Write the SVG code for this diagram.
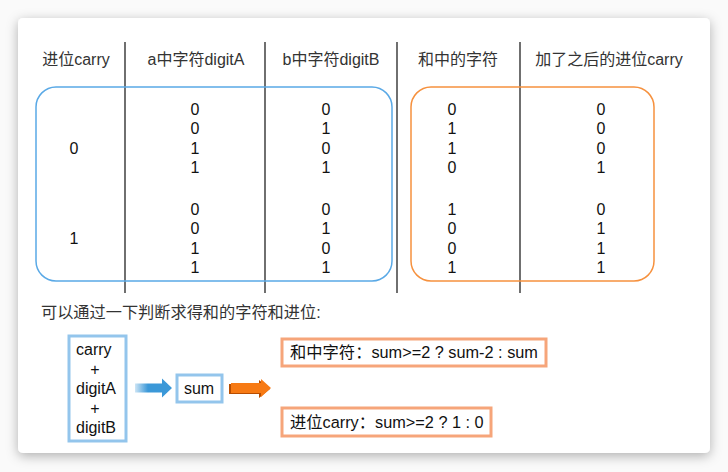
<svg xmlns="http://www.w3.org/2000/svg" width="728" height="472" viewBox="0 0 728 472">
<defs>
<style>
text{font-family:"Liberation Sans","Noto Sans CJK SC",sans-serif;font-size:16px;fill:#111}
.h{fill:#333}
.c{text-anchor:middle}
.vl{stroke:#222;stroke-width:1.3}
.grp{fill:none;stroke-width:1.5}
.ob{fill:#fff;stroke:#f6a57a;stroke-width:3}
.bb{fill:#fff;stroke:#93c5ec;stroke-width:3}
.rule{font-size:16.3px}
</style>
<filter id="sh" x="-10%" y="-10%" width="120%" height="120%">
<feDropShadow dx="0" dy="3" stdDeviation="6" flood-color="#000" flood-opacity="0.3"/>
</filter>
<linearGradient id="bg" x1="0" x2="1" y1="0" y2="0">
<stop offset="0" stop-color="#3b98d8" stop-opacity="0.25"/>
<stop offset="0.35" stop-color="#3b98d8"/>
<stop offset="1" stop-color="#3b98d8"/>
</linearGradient>
</defs>
<rect width="728" height="472" fill="#fafafa"/>
<rect x="18" y="18" width="692" height="435" rx="5" fill="#fff" filter="url(#sh)"/>

<g id="table-lines">
<line class="vl" x1="125" y1="42" x2="125" y2="293"/>
<line class="vl" x1="265" y1="42" x2="265" y2="293"/>
<line class="vl" x1="397" y1="42" x2="397" y2="293"/>
<line class="vl" x1="520" y1="42" x2="520" y2="293"/>
</g>

<g id="headers">
<text class="h c" x="76" y="65">进位carry</text>
<text class="h c" x="196" y="65">a中字符digitA</text>
<text class="h c" x="331" y="65">b中字符digitB</text>
<text class="h c" x="458" y="65">和中的字符</text>
<text class="h c" x="609" y="65">加了之后的进位carry</text>
</g>

<g id="input-group">
<rect class="grp" x="36" y="87" width="356" height="194" rx="20" stroke="#5aa9e6"/>
<text class="c" x="74" y="154">0</text>
<text class="c" x="74" y="244">1</text>
<text class="c" x="195" y="115">0</text>
<text class="c" x="195" y="134">0</text>
<text class="c" x="195" y="154">1</text>
<text class="c" x="195" y="173">1</text>
<text class="c" x="195" y="215">0</text>
<text class="c" x="195" y="234">0</text>
<text class="c" x="195" y="254">1</text>
<text class="c" x="195" y="273">1</text>
<text class="c" x="326" y="115">0</text>
<text class="c" x="326" y="134">1</text>
<text class="c" x="326" y="154">0</text>
<text class="c" x="326" y="173">1</text>
<text class="c" x="326" y="215">0</text>
<text class="c" x="326" y="234">1</text>
<text class="c" x="326" y="254">0</text>
<text class="c" x="326" y="273">1</text>
</g>

<g id="output-group">
<rect class="grp" x="411" y="87" width="243" height="194" rx="20" stroke="#f6913e"/>
<text class="c" x="452" y="115">0</text>
<text class="c" x="452" y="134">1</text>
<text class="c" x="452" y="154">1</text>
<text class="c" x="452" y="173">0</text>
<text class="c" x="452" y="215">1</text>
<text class="c" x="452" y="234">0</text>
<text class="c" x="452" y="254">0</text>
<text class="c" x="452" y="273">1</text>
<text class="c" x="601" y="115">0</text>
<text class="c" x="601" y="134">0</text>
<text class="c" x="601" y="154">0</text>
<text class="c" x="601" y="173">1</text>
<text class="c" x="601" y="215">0</text>
<text class="c" x="601" y="234">1</text>
<text class="c" x="601" y="254">1</text>
<text class="c" x="601" y="273">1</text>
</g>

<g id="caption">
<text class="h" x="41" y="318" style="font-size:16.2px">可以通过一下判断求得和的字符和进位:</text>
</g>

<g id="inputs">
<rect class="bb" x="69" y="336" width="57" height="105"/>
<text x="76" y="355">carry</text>
<text class="c" x="95" y="375">+</text>
<text x="76" y="394">digitA</text>
<text class="c" x="95" y="414">+</text>
<text x="76" y="433">digitB</text>
</g>

<g id="sum">
<rect class="bb" x="177" y="375" width="45" height="27"/>
<text class="c" x="199" y="394">sum</text>
</g>

<g id="char-rule">
<rect class="ob" x="282" y="339" width="264" height="27"/>
<text class="rule" x="290" y="358">和中字符：sum&gt;=2 ? sum-2 : sum</text>
</g>

<g id="carry-rule">
<rect class="ob" x="282" y="408" width="209" height="28"/>
<text class="rule" x="290" y="428">进位carry：sum&gt;=2 ? 1 : 0</text>
</g>

<g id="connectors">
<polygon points="135,383.5 162,383.5 162,378.5 172,388 162,397.5 162,392.5 135,392.5" fill="url(#bg)"/>
<polygon points="229,384 259,384 259,380 270,389 259,398 259,394 229,394" fill="#b84d00"/>
<polygon points="231,383 261,383 261,379 271,388 261,397 261,393 231,393" fill="#f77a14"/>
</g>
</svg>
